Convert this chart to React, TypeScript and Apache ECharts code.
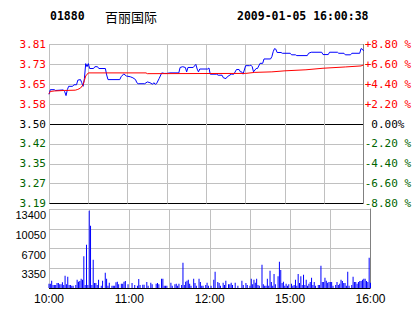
import React, { useEffect, useRef } from 'react';
import * as echarts from 'echarts';

const PREV_CLOSE = 3.5;
const stockCode = '01880';
const stockName = '百丽国际';
const timestamp = '2009-01-05 16:00:38';

// trade-minute index (0 = 10:00, 150 = 12:30/14:30, 240 = 16:00)
const timeTickMinutes = [0, 60, 120, 180, 240];
const timeTickLabels = ['10:00', '11:00', '12:00', '15:00', '16:00'];

// last price per minute: [trade minute, price]
const lastPrice: [number, number][] = [
  [0, 3.615], [1, 3.633], [4, 3.633], [5, 3.630], [11, 3.632], [12, 3.625], [13, 3.610], [14, 3.633],
  [15, 3.646], [18, 3.646], [19, 3.652], [21, 3.652], [22, 3.670], [24, 3.672], [25, 3.660], [26, 3.646],
  [27, 3.676], [28, 3.734], [29, 3.722], [30, 3.734], [31, 3.715], [34, 3.715], [35, 3.722], [37, 3.722],
  [38, 3.715], [43, 3.715], [44, 3.690], [45, 3.672], [54, 3.672], [55, 3.683], [57, 3.694], [59, 3.686],
  [62, 3.683], [64, 3.679], [66, 3.672], [67, 3.660], [68, 3.656], [73, 3.656], [75, 3.663], [77, 3.660],
  [79, 3.654], [80, 3.660], [81, 3.654], [82, 3.656], [84, 3.676], [86, 3.698], [88, 3.696], [90, 3.696],
  [92, 3.698], [99, 3.698], [100, 3.719], [102, 3.722], [104, 3.719], [105, 3.702], [106, 3.719], [110, 3.719],
  [112, 3.731], [113, 3.713], [114, 3.702], [115, 3.713], [121, 3.713], [122, 3.717], [123, 3.693], [128, 3.693],
  [129, 3.689], [132, 3.689], [133, 3.679], [135, 3.676], [136, 3.683], [139, 3.693], [141, 3.693], [143, 3.711],
  [145, 3.711], [146, 3.702], [147, 3.702], [148, 3.693], [150, 3.726], [153, 3.726], [154, 3.728], [155, 3.722],
  [156, 3.702], [158, 3.715], [159, 3.715], [161, 3.735], [163, 3.735], [164, 3.752], [169, 3.752], [170, 3.761],
  [171, 3.780], [172, 3.792], [173, 3.790], [174, 3.777], [177, 3.777], [178, 3.774], [184, 3.774], [185, 3.768],
  [188, 3.768], [189, 3.765], [197, 3.765], [198, 3.774], [200, 3.778], [208, 3.778], [209, 3.769], [213, 3.769],
  [214, 3.778], [220, 3.778], [221, 3.774], [225, 3.774], [226, 3.768], [230, 3.768], [231, 3.774], [237, 3.774],
  [238, 3.792], [239, 3.790], [240, 3.783],
];

// average price: [trade minute, price]
const avgPrice: [number, number][] = [
  [0, 3.617], [1, 3.626], [4, 3.628], [12, 3.630], [20, 3.631], [22, 3.634], [24, 3.639], [26, 3.652],
  [27, 3.669], [28, 3.686], [30, 3.698], [74, 3.698], [75, 3.695], [150, 3.696], [157, 3.700], [170, 3.702],
  [180, 3.706], [196, 3.710], [209, 3.716], [226, 3.721], [238, 3.725], [240, 3.729],
];

// volume per trade minute, 0..240
const volumes = [
  735, 735, 1240, 500, 500, 500, 850, 850, 620, 620, 960, 500, 2090, 620, 1920, 500, 500, 400, 400, 0,
  500, 1410, 1080, 1190, 1580, 1410, 5370, 500, 7345, 500, 13100, 10560, 500, 4800, 850, 850, 500, 1410, 0, 400,
  1240, 0, 2600, 1580, 400, 900, 0, 400, 400, 400, 960, 1080, 620, 0, 735, 735, 1080, 1190, 0, 620,
  0, 0, 850, 0, 500, 0, 400, 1520, 500, 0, 560, 560, 0, 1020, 400, 0, 900, 620, 0, 0,
  735, 850, 620, 0, 1580, 1580, 400, 400, 400, 0, 0, 900, 400, 0, 620, 735, 400, 735, 0, 500,
  4300, 510, 1080, 1240, 1410, 735, 400, 0, 1580, 850, 400, 0, 1580, 1020, 400, 400, 0, 510, 900, 400,
  0, 400, 0, 1410, 2770, 0, 1020, 850, 400, 0, 900, 510, 1240, 0, 620, 620, 900, 510, 0, 900,
  0, 400, 0, 0, 1240, 510, 0, 850, 510, 0, 400, 1580, 620, 1410, 900, 1580, 510, 400, 0, 3950,
  620, 400, 400, 1580, 400, 2940, 1020, 400, 2370, 620, 0, 1980, 4460, 3050, 850, 1075, 400, 735, 400, 620,
  0, 735, 400, 510, 1410, 400, 2370, 850, 1980, 510, 2260, 510, 1410, 400, 735, 1020, 1750, 510, 1020, 400,
  0, 510, 510, 3790, 1020, 1020, 1750, 1240, 900, 1020, 1020, 1020, 400, 0, 510, 1020, 510, 735, 1410, 1190,
  850, 850, 400, 2770, 400, 0, 510, 1920, 1020, 1020, 735, 1020, 1190, 1190, 1410, 1580, 1580, 1190, 1020, 5140,
  900,
];

const RED = '#ff0000';
const GREEN = '#006400';
const GRIDC = '#c0c0c0';
const MONO = '"DejaVu Sans Mono", monospace';
const SANS = '"Liberation Sans", Arial, sans-serif';

const pct = (p: number) => (p / PREV_CLOSE - 1) * 100;
const signColor = (v: number) => (v > 0.001 ? RED : v < -0.001 ? GREEN : '#000');

export default function App() {
  const ref = useRef<HTMLDivElement>(null);
  useEffect(() => {
    if (!ref.current) return;
    const chart = echarts.init(ref.current, null, { renderer: 'svg' });
    const priceSplitColors = [
      '#000000', GRIDC, GRIDC, GRIDC, '#000000', GRIDC, GRIDC, GRIDC, GRIDC,
    ];
    chart.setOption({
      animation: false,
      backgroundColor: '#ffffff',
      grid: [
        { left: 49, top: 44.5, width: 321.5, height: 159 },
        { left: 49, top: 209, width: 321.5, height: 79 },
      ],
      xAxis: [
        {
          gridIndex: 0, type: 'value', min: 0, max: 240, interval: 30,
          axisLine: { show: false }, axisTick: { show: false }, axisLabel: { show: false },
          splitLine: { show: true, lineStyle: { color: GRIDC, width: 1 } },
        },
        {
          gridIndex: 1, type: 'value', min: 0, max: 240, interval: 30,
          axisLine: { show: false }, axisTick: { show: false },
          axisLabel: {
            show: true, margin: 5, fontSize: 12, fontFamily: SANS, color: '#000',
            formatter: (v: number) => {
              const i = timeTickMinutes.indexOf(v);
              return i >= 0 ? timeTickLabels[i] : '';
            },
          },
          splitLine: { show: true, lineStyle: { color: GRIDC, width: 1 } },
        },
      ],
      yAxis: [
        {
          gridIndex: 0, type: 'value', min: -8.8, max: 8.8, interval: 2.2, position: 'left',
          axisLine: { show: false }, axisTick: { show: false },
          axisLabel: {
            margin: 3, fontSize: 11, fontFamily: MONO, lineHeight: 10,
            color: (v: any) => signColor(Number(v)),
            formatter: (v: number) => (PREV_CLOSE * (1 + v / 100)).toFixed(2),
          },
          splitLine: { show: true, lineStyle: { color: priceSplitColors, width: 1 } },
        },
        {
          gridIndex: 0, type: 'value', min: -8.8, max: 8.8, interval: 2.2, position: 'right',
          axisLine: { show: true, lineStyle: { color: '#808080', width: 1 } }, axisTick: { show: false },
          axisLabel: {
            margin: 1, fontSize: 11, fontFamily: MONO, lineHeight: 10,
            color: (v: any) => signColor(Number(v)),
            formatter: (v: number) =>
              v > 0.001 ? '+' + v.toFixed(2) + ' %' : v < -0.001 ? v.toFixed(2) + ' %' : '\u00a00.00%',
          },
          splitLine: { show: false },
        },
        {
          gridIndex: 1, type: 'value', min: 0, max: 13400, interval: 3350, position: 'left',
          axisLine: { show: false }, axisTick: { show: false },
          axisLabel: {
            margin: 3, fontSize: 11, fontFamily: SANS, color: '#000',
            verticalAlign: 'top', lineHeight: 12,
            formatter: (v: number) => (v === 0 ? '' : String(v)),
          },
          splitLine: { show: true, lineStyle: { color: ['#000000', GRIDC, GRIDC, GRIDC, GRIDC], width: 1 } },
        },
        {
          gridIndex: 1, type: 'value', min: 0, max: 13400, interval: 3350, position: 'right',
          axisLine: { show: true, lineStyle: { color: '#808080', width: 1 } }, axisTick: { show: false },
          axisLabel: { show: false }, splitLine: { show: false },
        },
      ],
      series: [
        {
          type: 'line', xAxisIndex: 0, yAxisIndex: 0, showSymbol: false, silent: true,
          data: lastPrice.map(([m, p]) => [m, pct(p)]),
          lineStyle: { color: '#0000ff', width: 1 },
        },
        {
          type: 'line', xAxisIndex: 0, yAxisIndex: 0, showSymbol: false, silent: true,
          data: avgPrice.map(([m, p]) => [m, pct(p)]),
          lineStyle: { color: RED, width: 1 },
        },
        {
          type: 'bar', xAxisIndex: 1, yAxisIndex: 2, barWidth: 1, silent: true,
          data: volumes.map((v, i) => [i, v]),
          itemStyle: { color: '#0000ff' },
        },
      ],
      graphic: [
        { type: 'text', x: 50, y: 16, style: { text: stockCode, font: 'bold 11.5px ' + MONO, fill: '#000', verticalAlign: 'middle' } },
        { type: 'text', x: 105, y: 16, style: { text: stockName, font: '13px "Noto Sans CJK SC", sans-serif', fill: '#000', verticalAlign: 'middle' } },
        { type: 'text', x: 237, y: 16, style: { text: timestamp, font: 'bold 11.5px ' + MONO, fill: '#000', verticalAlign: 'middle' } },
      ],
    });
    return () => chart.dispose();
  }, []);
  return (
    <div
      ref={ref}
      style={{ position: 'fixed', left: 0, top: 0, width: 414, height: 314, background: '#fff' }}
    />
  );
}
